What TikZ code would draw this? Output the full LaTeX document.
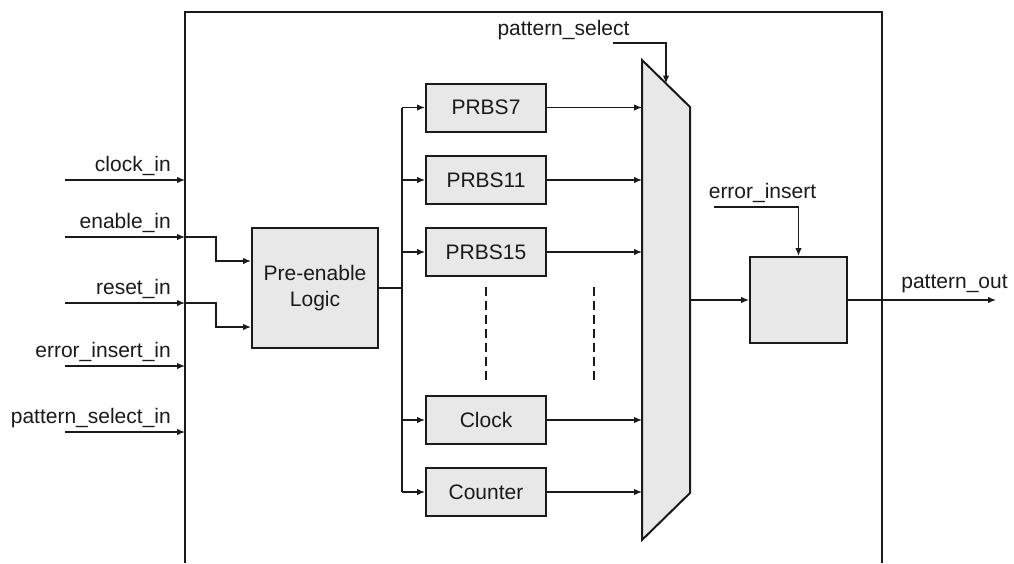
\documentclass[tikz,border=0pt]{standalone}
\usepackage{fontspec}
\setmainfont{Liberation Sans}
\usetikzlibrary{arrows.meta}
\definecolor{boxfill}{HTML}{E8E8E8}
\definecolor{ink}{HTML}{1A1A1A}
\tikzset{
  blk/.style={draw=ink, line width=2pt, fill=boxfill, inner sep=0pt, font=\fontsize{21}{26}\selectfont, align=center, text=ink},
  lbl/.style={inner sep=0pt, font=\fontsize{21}{26}\selectfont, text=ink},
  sig/.style={draw=ink, line width=1.3pt, -{Latex[length=8pt,width=6.5pt]}},
  wire/.style={draw=ink, line width=1.3pt},
  dots/.style={draw=ink, line width=1.3pt, dash pattern=on 9pt off 5pt},
}
\begin{document}
\begin{tikzpicture}[x=1pt,y=-1pt]
\useasboundingbox (0,0) rectangle (1014,563);

% enclosing module (open at the bottom)
\draw[ink, line width=2pt] (185,563) -- (185,12) -- (882,12) -- (882,563);

% external inputs
\foreach \nm/\yy/\tx in {ci/180/clock\_in, ei/237/enable\_in, ri/303/reset\_in, ii/366/error\_insert\_in, pi/432/pattern\_select\_in}{
  \coordinate (\nm s) at (65,\yy);
  \coordinate (\nm e) at (185,\yy);
  \node[lbl, anchor=base east] (\nm l) at (171,\yy-9) {\tx};
  \draw[sig] (\nm s) -- (\nm e);
}

% pre-enable logic
\node[blk, minimum width=126pt, minimum height=120pt] (pre) at (315,288) {Pre-enable\\Logic};
\draw[sig] (eie) -| (216,261) -- (pre.west |- 0,261);
\draw[sig] (rie) -| (216,327) -- (pre.west |- 0,327);

% pattern generators
\foreach \nm/\yy/\tx in {p7/107.5/PRBS7, p11/180/PRBS11, p15/252/PRBS15, clk/420/Clock, cnt/492/Counter}{
  \node[blk, minimum width=120pt, minimum height=48pt] (\nm) at (486,\yy) {\tx};
}

% fan-out bus
\coordinate (bus) at (402,288);
\draw[wire] (pre.east |- bus) -- (bus);
\draw[wire] (402,107.5) -- (402,492);
\foreach \nm in {p7,p11,p15,clk,cnt}{
  \draw[sig] (402,0 |- \nm.west) -- (\nm.west);
}

% omitted generators
\draw[dots] (486,287) -- (486,384);
\draw[dots] (594,287) -- (594,384);

% multiplexer
\coordinate (mtl) at (642,60);
\coordinate (mtr) at (690,107);
\coordinate (mbr) at (690,493);
\coordinate (mbl) at (642,540);
\draw[ink, line width=2pt, fill=boxfill, line join=miter] (mtl) -- (mtr) -- (mbr) -- (mbl) -- cycle;
\foreach \nm in {p7,p11,p15,clk,cnt}{
  \draw[sig] (\nm.east) -- (mtl |- \nm.east);
}

% select input
\node[lbl, anchor=base] (psl) at (563.5,35) {pattern\_select};
\coordinate (pss) at (613,43);
\coordinate (pse) at (666,83.5);
\draw[sig] (pss) -| (pse);

% error insertion stage
\node[blk, minimum width=97pt, minimum height=86pt] (err) at (798.5,300) {};
\coordinate (mout) at (690,300);
\draw[sig] (mout) -- (err.west);
\node[lbl, anchor=base] (eil) at (762.5,198) {error\_insert};
\coordinate (eis) at (714,207);
\draw[sig] (eis) -| (err.north);

% output
\coordinate (pout) at (996,300);
\draw[sig] (err.east) -- (pout);
\node[lbl, anchor=base] (pol) at (954.5,288) {pattern\_out};
\end{tikzpicture}
\end{document}
